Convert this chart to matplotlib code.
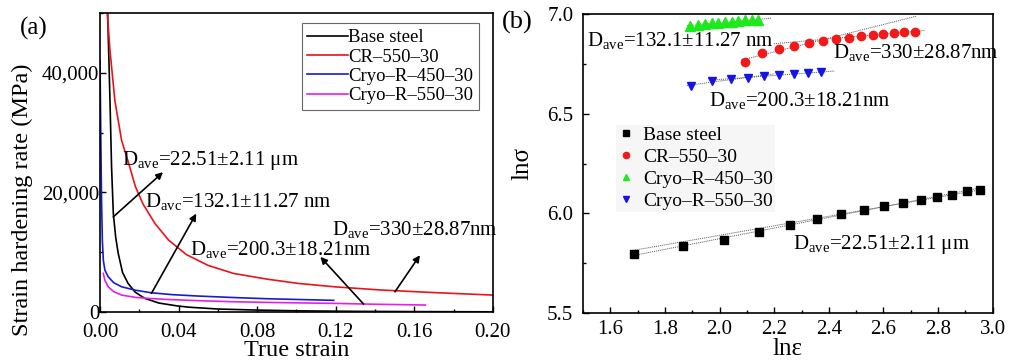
import matplotlib

matplotlib.use("Agg")
import matplotlib.pyplot as plt
import numpy as np
from matplotlib.ticker import FuncFormatter, MultipleLocator

plt.rcParams["font.family"] = ["Liberation Serif", "DejaVu Serif"]
plt.rcParams["mathtext.fontset"] = "custom"
plt.rcParams["mathtext.rm"] = "Liberation Serif"
plt.rcParams["mathtext.it"] = "Liberation Serif:italic"
plt.rcParams["mathtext.default"] = "regular"

# ---- panel (a): strain hardening rate vs true strain ----
SERIES = ["Base steel", "CR–550–30", "Cryo–R–450–30", "Cryo–R–550–30"]
COLORS_A = ["black", "#e8141c", "#1a1ad0", "#e81ee8"]

base_x = [0.0039, 0.0051, 0.0059, 0.0068, 0.0080, 0.0093, 0.0115, 0.0143, 0.018,
          0.0228, 0.030, 0.0397, 0.0456, 0.060, 0.0793, 0.10, 0.13, 0.16, 0.20]
base_y = [50000, 35300, 24200, 16450, 12500, 9780, 6600, 4780, 3300,
          2280, 1500, 1000, 800, 500, 330, 200, 110, 70, 30]

cr_x = [0.0037, 0.0051, 0.0076, 0.011, 0.0145, 0.018, 0.022, 0.028, 0.035,
        0.044, 0.055, 0.068, 0.085, 0.101, 0.12, 0.1435, 0.17, 0.20]
cr_y = [50000, 43700, 35300, 28700, 25000, 21000, 18000, 14800, 12000,
        9600, 7800, 6450, 5500, 4780, 4200, 3670, 3250, 2830]

c450_x = [0.0000, 0.0004, 0.0008, 0.0012, 0.0017, 0.0025, 0.0042, 0.0070, 0.011,
          0.018, 0.026, 0.037, 0.050, 0.068, 0.085, 0.10, 0.119]
c450_y = [42000, 30000, 18700, 12000, 8670, 7000, 5880, 4900, 4220,
          3650, 3220, 2900, 2670, 2420, 2220, 2100, 1950]

c550_x = [0.0017, 0.0025, 0.0042, 0.0070, 0.011, 0.018, 0.026, 0.034, 0.050,
          0.0675, 0.09, 0.118, 0.14, 0.1657]
c550_y = [6450, 5300, 4220, 3400, 2830, 2450, 2250, 2100, 1900,
          1720, 1580, 1450, 1300, 1170]

notes_a = [r"D$_{ave}$=22.51±2.11 μm", r"D$_{avc}$=132.1±11.27 nm",
           r"D$_{ave}$=200.3±18.21nm", r"D$_{ave}$=330±28.87nm"]
notes_a_text = [(0.011, 24600), (0.0228, 17500), (0.0456, 9500), (0.118, 12900)]
notes_a_tail = [(0.00675, 15900), (0.0262, 3120), (0.1342, 1330), (0.1502, 3380)]
notes_a_head = [(0.0321, 23380), (0.0490, 16450), (0.1122, 9220), (0.1629, 9500)]

# ---- panel (b): ln(sigma) vs ln(epsilon) ----
MARKERS_B = ["s", "o", "^", "v"]
COLORS_B = ["black", "#f01a1a", "#1ee81e", "#1414e6"]

lb_x = [1.685, 1.865, 2.015, 2.143, 2.256, 2.356, 2.445, 2.529, 2.602, 2.673,
        2.737, 2.795, 2.852, 2.905, 2.954]
lb_y = [5.797, 5.834, 5.868, 5.908, 5.941, 5.971, 5.995, 6.015, 6.035, 6.051,
        6.066, 6.080, 6.091, 6.111, 6.115]

lcr_x = [2.094, 2.155, 2.217, 2.273, 2.328, 2.378, 2.427, 2.473, 2.517, 2.560,
         2.600, 2.639, 2.676, 2.715]
lcr_y = [6.758, 6.806, 6.825, 6.840, 6.853, 6.863, 6.873, 6.881, 6.891, 6.896,
         6.901, 6.906, 6.908, 6.911]

l450_x = [1.892, 1.922, 1.946, 1.971, 1.995, 2.019, 2.044, 2.068, 2.092, 2.117, 2.141]
l450_y = [6.942, 6.946, 6.949, 6.953, 6.956, 6.959, 6.962, 6.965, 6.968, 6.970, 6.972]

l550_x = [1.894, 1.971, 2.040, 2.105, 2.163, 2.218, 2.273, 2.324, 2.373]
l550_y = [6.640, 6.664, 6.672, 6.680, 6.689, 6.692, 6.700, 6.705, 6.709]

# fit segments: (series index, first point, last point, x from, x to)
FITS = [(0, 0, 8, 1.69, 2.95), (0, 7, 15, 1.69, 2.95),
        (1, 0, 6, 2.08, 2.72), (1, 7, 14, 2.20, 2.75),
        (2, 0, 11, 1.88, 2.19),
        (3, 0, 4, 1.88, 2.20), (3, 4, 9, 1.97, 2.42)]

notes_b = [r"D$_{ave}$=132.1±11.27 nm", r"D$_{ave}$=330±28.87nm",
           r"D$_{ave}$=200.3±18.21nm", r"D$_{ave}$=22.51±2.11 μm"]
notes_b_pos = [(1.516, 6.838), (2.416, 6.780), (1.962, 6.540), (2.267, 5.821)]


def style_axes(ax, xpad, ypad):
    ax.tick_params(which="both", direction="in", top=False, right=False,
                   labelsize=15, width=1.0)
    ax.tick_params(which="major", length=4)
    ax.tick_params(which="minor", length=2.5)
    ax.tick_params(axis="x", which="both", pad=xpad)
    ax.tick_params(axis="y", which="both", pad=ypad)
    for side in ax.spines.values():
        side.set_linewidth(1.2)


fig = plt.figure(figsize=(10.14, 3.61), dpi=100)
ax1 = fig.add_axes([0.0986, 0.1357, 0.3874, 0.8283])
ax2 = fig.add_axes([0.575, 0.133, 0.404, 0.828])

# panel (a)
curves = [(base_x, base_y), (cr_x, cr_y), (c450_x, c450_y), (c550_x, c550_y)]
for (xs, ys), name, col in zip(curves, SERIES, COLORS_A):
    ax1.plot(xs, ys, color=col, linewidth=1.2, label=name)

for text, tp, tail, head in zip(notes_a, notes_a_text, notes_a_tail, notes_a_head):
    ax1.annotate("", xy=head, xytext=tail,
                 arrowprops=dict(arrowstyle="-|>", color="black", lw=1.2,
                                 mutation_scale=10, shrinkA=0, shrinkB=0))
    ax1.text(tp[0], tp[1], text, fontsize=15, ha="left", va="baseline")

ax1.set_xlim(0, 0.2)
ax1.set_ylim(0, 50000)
ax1.xaxis.set_major_locator(MultipleLocator(0.04))
ax1.xaxis.set_minor_locator(MultipleLocator(0.02))
ax1.yaxis.set_major_locator(MultipleLocator(20000))
ax1.yaxis.set_minor_locator(MultipleLocator(10000))
ax1.xaxis.set_major_formatter(FuncFormatter(lambda v, p: f"{v:.2f}"))
ax1.yaxis.set_major_formatter(FuncFormatter(lambda v, p: f"{v:,.0f}"))
style_axes(ax1, xpad=8, ypad=0.5)
ax1.set_xlabel("True strain", fontsize=17.5)
ax1.xaxis.set_label_coords(0.5, -0.094, transform=ax1.transAxes)
ax1.xaxis.label.set_va("top")
ax1.set_ylabel("Strain hardening rate (MPa)", fontsize=17.5)
ax1.yaxis.set_label_coords(-0.17, 0.375, transform=ax1.transAxes)
leg1 = ax1.legend(loc="upper right", bbox_to_anchor=(0.965, 0.965), fontsize=13.5,
                  frameon=True, fancybox=False, edgecolor="#444444",
                  handlelength=2.2, handletextpad=0.0, labelspacing=0.12,
                  borderpad=0.3, borderaxespad=0)
leg1.get_frame().set_linewidth(0.8)

# panel (b)
points = [(lb_x, lb_y), (lcr_x, lcr_y), (l450_x, l450_y), (l550_x, l550_y)]
sizes = [5.5, 6, 6.5, 6]
for (xs, ys), name, col, mk, ms in zip(points, SERIES, COLORS_B, MARKERS_B, sizes):
    ax2.plot(xs, ys, linestyle="none", marker=mk, color=col, markersize=ms,
             label=name, zorder=3)

for idx, i0, i1, xa, xb in FITS:
    xs = np.asarray(points[idx][0][i0:i1])
    ys = np.asarray(points[idx][1][i0:i1])
    k, b = np.polyfit(xs, ys, 1)
    xx = np.array([xa, xb])
    ax2.plot(xx, k * xx + b, linestyle=(0, (1, 1)), color="#555555",
             linewidth=0.7, zorder=2)

for text, pos in zip(notes_b, notes_b_pos):
    ax2.text(pos[0], pos[1], text, fontsize=15, ha="left", va="baseline", zorder=4)

ax2.set_xlim(1.5, 3.0)
ax2.set_ylim(5.5, 7.0)
ax2.xaxis.set_major_locator(MultipleLocator(0.2))
ax2.xaxis.set_minor_locator(MultipleLocator(0.1))
ax2.yaxis.set_major_locator(MultipleLocator(0.5))
ax2.yaxis.set_minor_locator(MultipleLocator(0.25))
ax2.xaxis.set_major_formatter(FuncFormatter(lambda v, p: f"{v:.1f}"))
ax2.yaxis.set_major_formatter(FuncFormatter(lambda v, p: f"{v:.1f}"))
style_axes(ax2, xpad=5, ypad=7)
ax2.set_xlabel("lnε", fontsize=18)
ax2.xaxis.set_label_coords(0.5, -0.085, transform=ax2.transAxes)
ax2.xaxis.label.set_va("top")
ax2.set_ylabel("lnσ", fontsize=18)
ax2.yaxis.set_label_coords(-0.12, 0.5, transform=ax2.transAxes)
leg2 = ax2.legend(loc="upper left", bbox_to_anchor=(0.08, 0.63), fontsize=14,
                  frameon=True, fancybox=False, facecolor="#f6f6f6",
                  edgecolor="none", framealpha=1, markerscale=0.75,
                  handlelength=0.8, handletextpad=0.5, labelspacing=0.22,
                  borderpad=0.1, borderaxespad=0)

fig.text(0.020, 0.922, "(a)", fontsize=18, va="center", ha="left")
fig.text(0.495, 0.939, "(b)", fontsize=19, va="center", ha="left")

fig.savefig("out.png", dpi=100)
